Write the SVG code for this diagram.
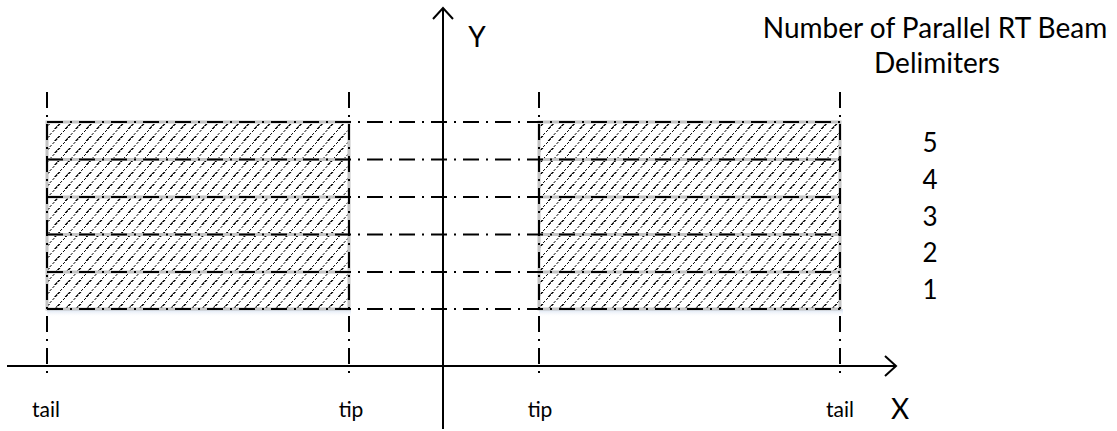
<svg xmlns="http://www.w3.org/2000/svg" width="1117" height="431" viewBox="0 0 1117 431">
<style>
.t{font-family:Lato,"Liberation Sans",sans-serif;fill:#000}
.dd{stroke:#000;stroke-width:2;fill:none;stroke-dasharray:16 7 2 7}
.grid{stroke:#c4c4c4;stroke-width:3;fill:none}
.ax{stroke:#000;stroke-width:2;fill:none}
</style>
<defs>
<pattern id="hatch" patternUnits="userSpaceOnUse" width="10.5" height="12">
<line x1="0" y1="12" x2="10.5" y2="0" stroke="#000" stroke-width="1" stroke-dasharray="3 1" shape-rendering="crispEdges"/>
</pattern>
<linearGradient id="sh" x1="0" y1="0" x2="0" y2="1">
<stop offset="0" stop-color="#cfdcee"/>
<stop offset="1" stop-color="#ffffff" stop-opacity="0"/>
</linearGradient>
</defs>
<g id="left-box">
<rect x="47" y="309" width="304" height="8" fill="url(#sh)"/>
<rect x="47" y="122" width="302" height="187" fill="#fff"/>
<rect x="47" y="122" width="302" height="187" fill="url(#hatch)"/>
<rect x="47" y="122" width="302" height="187" class="grid"/>
<path class="grid" d="M47 159.5H349M47 197H349M47 234.5H349M47 272H349"/>
</g>
<g id="right-box">
<rect x="539" y="309" width="304" height="8" fill="url(#sh)"/>
<rect x="539" y="122" width="301" height="187" fill="#fff"/>
<rect x="539" y="122" width="301" height="187" fill="url(#hatch)"/>
<rect x="539" y="122" width="301" height="187" class="grid"/>
<path class="grid" d="M539 159.5H840M539 197H840M539 234.5H840M539 272H840"/>
</g>
<g id="connectors">
<path class="dd" d="M47 122H845M47 159.5H845M47 197H845M47 234.5H845M47 272H845M47 309H845"/>
<path class="dd" d="M47 92V378M349 92V378M539 92V378M840 92V378"/>
<path class="ax" d="M443 8V429M433 19L443 8L453 19"/>
<path class="ax" d="M7 366H896M885 356L896 366L885 376"/>
</g>
<g id="labels">
<text class="t" x="477" y="47" font-size="28" text-anchor="middle">Y</text>
<text class="t" x="900" y="419" font-size="28" text-anchor="middle">X</text>
<text class="t" x="935" y="38" font-size="28" text-anchor="middle">Number of Parallel RT Beam</text>
<text class="t" x="937" y="73" font-size="28" text-anchor="middle">Delimiters</text>
<text class="t" x="930" y="152" font-size="26" text-anchor="middle">5</text>
<text class="t" x="930" y="189" font-size="26" text-anchor="middle">4</text>
<text class="t" x="930" y="226" font-size="26" text-anchor="middle">3</text>
<text class="t" x="930" y="262" font-size="26" text-anchor="middle">2</text>
<text class="t" x="930" y="299" font-size="26" text-anchor="middle">1</text>
<text class="t" x="46" y="417" font-size="21" text-anchor="middle">tail</text>
<text class="t" x="351" y="417" font-size="21" text-anchor="middle">tip</text>
<text class="t" x="540" y="417" font-size="21" text-anchor="middle">tip</text>
<text class="t" x="840" y="417" font-size="21" text-anchor="middle">tail</text>
</g>
</svg>
